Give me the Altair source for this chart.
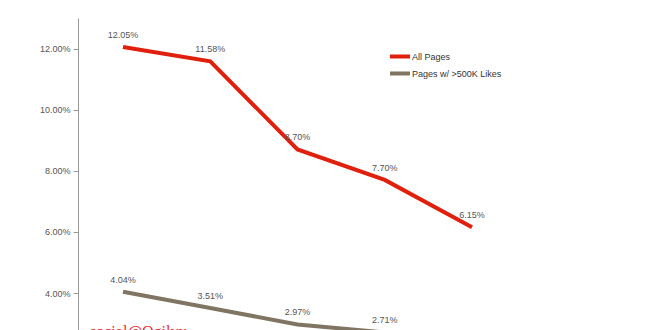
import altair as alt
import pandas as pd

months = ["Oct 2013", "Nov 2013", "Dec 2013", "Jan 2014", "Feb 2014"]
all_pages = [12.05, 11.58, 8.70, 7.70, 6.15]
big_pages = [4.04, 3.51, 2.97, 2.71, 2.11]
series_names = ["All Pages", "Pages w/ >500K Likes"]
series_colors = ["#e0200c", "#807562"]
y_ticks = [4, 6, 8, 10, 12]

rows = []
for m, a, b in zip(months, all_pages, big_pages):
    rows.append({"month": m, "series": series_names[0], "value": a})
    rows.append({"month": m, "series": series_names[1], "value": b})
df = pd.DataFrame(rows)

x_enc = alt.X("month:N", sort=months, axis=None,
              scale=alt.Scale(type="point", range=[45, 394], padding=0))
y_enc = alt.Y("value:Q", axis=alt.Axis(values=y_ticks, grid=False,
                                        labelExpr="format(datum.value, '.2f') + '%'",
                                        labelFontSize=9, labelColor="#555555",
                                        labelFont="Liberation Sans", labelPadding=3,
                                        tickSize=5, tickColor="#999999",
                                        domainColor="#999999", title=None),
              scale=alt.Scale(domain=[2.79, 13.0], nice=False, zero=False))
color_enc = alt.Color("series:N", sort=series_names,
                      scale=alt.Scale(domain=series_names, range=series_colors),
                      legend=alt.Legend(orient="none", legendX=310, legendY=30,
                                        title=None, symbolType="stroke",
                                        symbolStrokeWidth=4, symbolSize=400,
                                        labelFontSize=9, labelFont="Liberation Sans",
                                        labelColor="#333333", labelOffset=0,
                                        clipHeight=17, rowPadding=0, padding=0))

base = alt.Chart(df)
lines = base.mark_line(strokeWidth=4, clip=True).encode(x=x_enc, y=y_enc, color=color_enc)
labels = base.transform_calculate(lbl="format(datum.value, '.2f') + '%'").mark_text(
    dy=-12, fontSize=9, font="Liberation Sans", color="#555555",
    baseline="middle", clip=True).encode(x=x_enc, y=y_enc, text="lbl:N")

wm = alt.Chart(pd.DataFrame({"t": ["social@Ogilvy"]})).mark_text(
    font="Liberation Serif", fontSize=16, color="#e8302c", align="left",
    baseline="alphabetic").encode(x=alt.value(12), y=alt.value(319), text="t:N")

chart = alt.layer(lines, labels, wm).properties(
    width=582, height=312,
    autosize=alt.AutoSizeParams(type="none"),
    padding={"left": 78, "top": 18, "right": 0, "bottom": 0},
    background="white",
).configure_view(stroke=None)

chart.save("out.html", embed_options={"renderer": "svg", "actions": False})
